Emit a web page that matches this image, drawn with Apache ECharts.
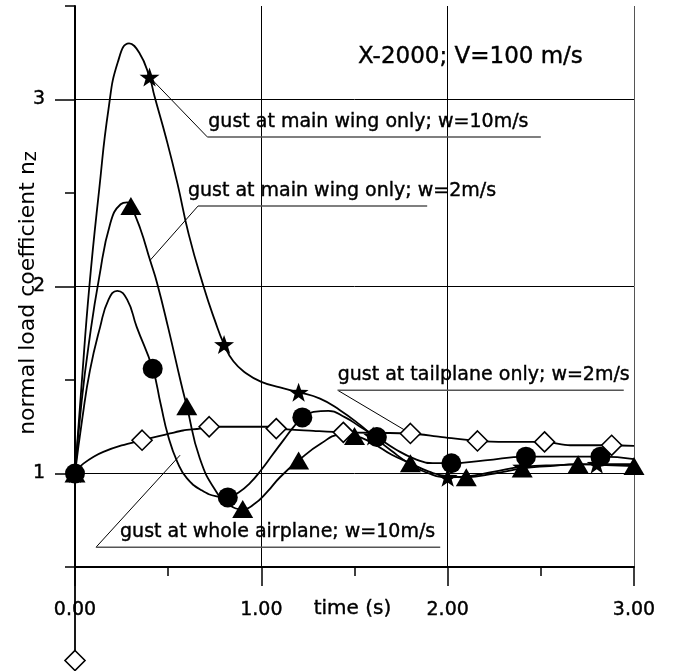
<!DOCTYPE html>
<html>
<head>
<meta charset="utf-8">
<script src="https://cdn.jsdelivr.net/npm/echarts@6/dist/echarts.min.js"></script>
<style>
  html, body { margin: 0; padding: 0; background: #fff; }
  #chart { width: 673px; height: 671px; }
</style>
</head>
<body>
<div id="chart"></div>
<script>
// Gust response of the X-2000 at V = 100 m/s: normal load coefficient nz over time (s)

const timeTicks = [0, 1, 2, 3];
const loadTicks = [1, 2, 3];

// gust at main wing only; w = 10 m/s  (star markers)
const wing10Curve = [
  [0, 1.00], [0.035, 1.47], [0.077, 2.00], [0.13, 2.52], [0.18, 2.95], [0.23, 3.20],
  [0.29, 3.30], [0.345, 3.25], [0.40, 3.12], [0.426, 3.02], [0.49, 2.79], [0.55, 2.55],
  [0.61, 2.28], [0.69, 2.00], [0.75, 1.82], [0.80, 1.69], [0.85, 1.60], [0.92, 1.535],
  [1.00, 1.49], [1.10, 1.46], [1.20, 1.435], [1.315, 1.40], [1.42, 1.34], [1.53, 1.26],
  [1.60, 1.20], [1.70, 1.12], [1.80, 1.05], [1.90, 1.00], [2.00, 0.98], [2.10, 0.985],
  [2.25, 1.01], [2.40, 1.035], [2.60, 1.045], [2.80, 1.05], [3.00, 1.05]
];
const wing10MarkTimes = [0, 0.40, 0.80, 1.20, 1.60, 2.00, 2.40, 2.80];

// gust at main wing only; w = 2 m/s  (triangle markers)
const wing2Curve = [
  [0, 1.00], [0.035, 1.38], [0.075, 1.70], [0.13, 2.05], [0.19, 2.34], [0.245, 2.44],
  [0.28, 2.45], [0.30, 2.43], [0.35, 2.31], [0.403, 2.14], [0.44, 2.02], [0.50, 1.78],
  [0.57, 1.48], [0.60, 1.36], [0.67, 1.08], [0.76, 0.90], [0.83, 0.83], [0.90, 0.81],
  [0.96, 0.835], [1.03, 0.90], [1.10, 0.98], [1.20, 1.07], [1.32, 1.16], [1.42, 1.205],
  [1.50, 1.20], [1.60, 1.16], [1.70, 1.10], [1.80, 1.055], [1.90, 1.01], [2.00, 0.985],
  [2.10, 0.98], [2.25, 1.00], [2.40, 1.027], [2.55, 1.04], [2.70, 1.05], [2.85, 1.045],
  [3.00, 1.04]
];
const wing2MarkTimes = [0, 0.30, 0.60, 0.90, 1.20, 1.50, 1.80, 2.10, 2.40, 2.70, 3.00];

// gust at whole airplane; w = 10 m/s  (circle markers)
const wholeCurve = [
  [0, 1.00], [0.04, 1.30], [0.08, 1.55], [0.134, 1.78], [0.18, 1.93], [0.227, 1.977],
  [0.28, 1.93], [0.331, 1.784], [0.417, 1.56], [0.46, 1.37], [0.50, 1.20], [0.55, 1.06],
  [0.60, 0.975], [0.68, 0.91], [0.76, 0.878], [0.82, 0.872], [0.88, 0.90], [0.94, 0.95],
  [1.00, 1.02], [1.06, 1.10], [1.12, 1.18], [1.17, 1.245], [1.22, 1.30], [1.28, 1.33],
  [1.36, 1.335], [1.45, 1.30], [1.53, 1.25], [1.62, 1.195], [1.72, 1.13], [1.82, 1.08],
  [1.92, 1.055], [2.02, 1.055], [2.20, 1.07], [2.42, 1.09], [2.60, 1.09], [2.82, 1.09],
  [3.00, 1.077]
];
const wholeMarkTimes = [0, 0.417, 0.82, 1.22, 1.62, 2.02, 2.42, 2.82];

// gust at tailplane only; w = 2 m/s  (diamond markers)
const tailCurve = [
  [0, 0.00], [0, 1.00], [0.01, 1.02], [0.045, 1.053], [0.10, 1.09], [0.152, 1.116],
  [0.25, 1.15], [0.36, 1.178], [0.45, 1.20], [0.51, 1.214], [0.58, 1.23], [0.671, 1.24],
  [0.72, 1.25], [1.047, 1.25], [1.08, 1.24], [1.28, 1.228], [1.44, 1.22], [1.80, 1.214],
  [1.96, 1.196], [2.16, 1.174], [2.317, 1.169], [2.52, 1.169], [2.657, 1.151],
  [2.88, 1.151], [3.00, 1.148]
];
const tailMarkTimes = [0, 0.36, 0.72, 1.08, 1.44, 1.80, 2.16, 2.52, 2.88];

const FONT = 'DejaVu Sans';
const INK = { textBorderColor: '#000', textBorderWidth: 0.4 };
const STAR = 'path://M100,0 L123.5,67.6 L195.1,69.1 L138,112.4 L158.8,180.9 L100,140 L41.2,180.9 L62,112.4 L4.9,69.1 L76.5,67.6 Z';

// the first curve point at a marker time (t = 0 on the tailplane curve is the 0.0 dip)
function marksOf(curve, times) {
  return times.map(t => curve.find(p => p[0] === t));
}

function curveSeries(data, smooth) {
  return {
    type: 'line', data: data, xAxisIndex: 0, yAxisIndex: 0,
    symbol: 'none', smooth: smooth, clip: false, z: 2,
    lineStyle: { color: '#000', width: 1.8 }
  };
}
function markSeries(data, symbol, size, fill) {
  return {
    type: 'scatter', data: data, xAxisIndex: 0, yAxisIndex: 0,
    symbol: symbol, symbolSize: size, symbolKeepAspect: true, clip: false, z: 4,
    itemStyle: { color: fill, borderColor: '#000', borderWidth: fill === '#fff' ? 1.6 : 0, opacity: 1 }
  };
}

const chart = echarts.init(document.getElementById('chart'), null, { renderer: 'canvas' });

chart.setOption({
  animation: false,
  backgroundColor: '#fff',
  grid: { left: 75, top: 6, right: 39, bottom: 104 },
  xAxis: [
    {
      type: 'value', min: 0, max: 3, interval: 0.5, position: 'bottom',
      axisLine: { show: true, onZero: false, lineStyle: { color: '#000', width: 2 } },
      axisTick: { show: true, length: 9, lineStyle: { color: '#000', width: 1.5 } },
      axisLabel: { show: false },
      splitLine: { show: false }
    },
    {
      type: 'value', min: 0, max: 3, interval: 1, position: 'bottom',
      axisLine: { show: false, onZero: false },
      axisTick: { show: true, length: 19, lineStyle: { color: '#000', width: 1.5 } },
      axisLabel: Object.assign({
        show: true, margin: 34, color: '#000', fontFamily: FONT, fontSize: 19,
        formatter: v => timeTicks.includes(v) ? v.toFixed(2) : ''
      }, INK),
      splitLine: { show: true, lineStyle: { color: ['#000', '#000', '#000', '#555'], width: 1 } }
    }
  ],
  yAxis: [
    {
      type: 'value', min: 0.5, max: 3.5, interval: 0.5, position: 'left',
      axisLine: { show: true, onZero: false, lineStyle: { color: '#000', width: 2 } },
      axisTick: { show: true, length: 10, lineStyle: { color: '#000', width: 1.5 } },
      axisLabel: { show: false },
      splitLine: { show: true, lineStyle: { color: ['rgba(0,0,0,0)', '#000'], width: 1 } }
    },
    {
      type: 'value', min: 0.5, max: 3.5, position: 'left',
      axisLine: { show: false, onZero: false },
      axisTick: { show: true, length: 20, customValues: loadTicks, lineStyle: { color: '#000', width: 1.5 } },
      axisLabel: Object.assign({
        show: true, margin: 30, customValues: loadTicks, color: '#000',
        fontFamily: FONT, fontSize: 19,
        formatter: v => String(v)
      }, INK),
      splitLine: { show: false }
    }
  ],
  series: [
    curveSeries(wing10Curve, 0.5),
    curveSeries(wing2Curve, 0.5),
    curveSeries(wholeCurve, 0.5),
    curveSeries(tailCurve, 0.3),
    markSeries(marksOf(wing10Curve, wing10MarkTimes), STAR, 20, '#000'),
    markSeries(marksOf(wing2Curve, wing2MarkTimes), 'triangle', [21, 18], '#000'),
    markSeries(marksOf(wholeCurve, wholeMarkTimes), 'circle', 20, '#000'),
    markSeries(marksOf(tailCurve, tailMarkTimes), 'diamond', 20, '#fff')
  ]
});

// Callout labels: leader from a point on a curve to an elbow, then an underline
const callouts = [
  { text: 'gust at main wing only; w=10m/s', anchor: [0.40, 3.12], elbow: [0.71, 2.80], end: 2.50, dx: 1 },
  { text: 'gust at main wing only; w=2m/s', anchor: [0.403, 2.14], elbow: [0.66, 2.43], end: 1.89, dx: -10 },
  { text: 'gust at tailplane only; w=2m/s', anchor: [1.80, 1.214], elbow: [1.41, 1.445], end: 2.945, dx: 0 },
  { text: 'gust at whole airplane; w=10m/s', anchor: [0.564, 1.098], elbow: [0.113, 0.606], end: 1.96, dx: 24 }
];

const toPx = p => chart.convertToPixel({ xAxisIndex: 0, yAxisIndex: 0 }, p);
const graphics = [];

function textEl(x, y, text, size, align, extra) {
  return Object.assign({
    type: 'text', z: 5, silent: true, x: x, y: y,
    style: {
      text: text, fill: '#000', font: 'normal ' + size + 'px "DejaVu Sans"',
      stroke: '#000', lineWidth: 0.4,
      align: align, verticalAlign: 'middle', textAlign: align, textVerticalAlign: 'middle'
    }
  }, extra || {});
}

callouts.forEach(c => {
  const a = toPx(c.anchor);
  const e = toPx(c.elbow);
  const f = toPx([c.end, c.elbow[1]]);
  graphics.push({
    type: 'line', z: 3, silent: true,
    shape: { x1: a[0], y1: a[1], x2: e[0], y2: e[1] },
    style: { stroke: '#000', lineWidth: 1 }
  });
  graphics.push({
    type: 'line', z: 3, silent: true,
    shape: { x1: e[0], y1: e[1], x2: f[0], y2: f[1] },
    style: { stroke: '#555', lineWidth: 1.5 }
  });
  graphics.push(textEl(e[0] + c.dx, e[1] - 15, c.text, 19, 'left'));
});

// chart heading
graphics.push(textEl(358, 57, 'X-2000; V=100 m/s', 23, 'left'));

// x-axis title, on the tick-label row midway along the axis
const mid = toPx([1.5, 0.5]);
graphics.push(textEl(mid[0] - 2, mid[1] + 42, 'time (s)', 20, 'center'));

// y-axis title with subscript z
graphics.push({
  type: 'text', z: 5, silent: true, x: 28, y: 293, rotation: Math.PI / 2,
  style: {
    text: '{a|normal load coefficient n}{b|z}',
    align: 'center', verticalAlign: 'middle', textAlign: 'center', textVerticalAlign: 'middle',
    rich: {
      a: { fontFamily: FONT, fontSize: 22, fill: '#000', lineHeight: 26, verticalAlign: 'middle' },
      b: { fontFamily: FONT, fontSize: 19, fill: '#000', lineHeight: 14, verticalAlign: 'bottom' }
    }
  }
});

chart.setOption({ graphic: { elements: graphics } });
</script>
</body>
</html>
